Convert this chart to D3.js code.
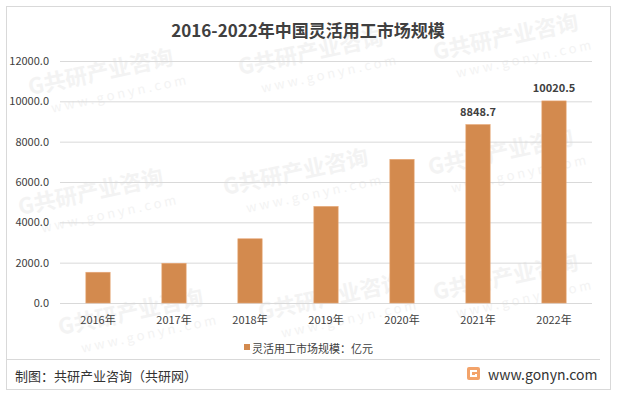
<!DOCTYPE html>
<html>
<head>
<meta charset="utf-8">
<script src="https://cdn.jsdelivr.net/npm/d3@7"></script>
<style>
  body { margin: 0; background: #fff; }
  text { font-family: "Noto Sans CJK SC", "Noto Sans", sans-serif; }
</style>
</head>
<body>
<svg width="617" height="394"></svg>
<script>
const years = ["2016年", "2017年", "2018年", "2019年", "2020年", "2021年", "2022年"];
const values = [1525, 1970, 3185, 4790, 7125, 8848.7, 10020.5];
const labelled = ["2021年", "2022年"];
const yTicks = [0, 2000, 4000, 6000, 8000, 10000, 12000];

const svg = d3.select("svg"),
  width = +svg.attr("width"),
  height = +svg.attr("height");

// faint watermark tiles
const wm = svg.append("g").attr("fill", "#f3f3f3");
const spots = [[30, 95], [240, 75], [435, 60], [20, 215], [225, 195], [430, 175], [60, 335], [260, 320], [435, 300]];
spots.forEach(function (s) {
  const g = wm.append("g").attr("transform", "translate(" + s[0] + "," + s[1] + ") rotate(-12)");
  g.append("text").attr("font-size", 22).attr("font-weight", "bold").text("G共研产业咨询");
  g.append("text").attr("x", 18).attr("y", 22).attr("font-size", 13).attr("letter-spacing", 3).text("www.gonyn.com");
});

// outer border
svg.append("rect").attr("x", 6.5).attr("y", 6.5).attr("width", 604).attr("height", 383)
  .attr("fill", "none").attr("stroke", "#d9d9d9");

svg.append("text")
  .attr("x", 308).attr("y", 37)
  .attr("text-anchor", "middle")
  .attr("font-size", 17).attr("font-weight", "bold")
  .attr("fill", "#404040")
  .text("2016-2022年中国灵活用工市场规模");

const x = d3.scaleBand().domain(years).range([60, 592]).paddingInner(0.68).paddingOuter(0.34);
const y = d3.scaleLinear().domain([0, 12000]).range([303, 61]);

const grid = svg.append("g");
grid.selectAll("line").data(yTicks).join("line")
  .attr("x1", 60).attr("x2", 592)
  .attr("y1", d => y(d) + 0.5).attr("y2", d => y(d) + 0.5)
  .attr("stroke", "#d9d9d9");

const yAxis = svg.append("g").attr("transform", "translate(52,0)")
  .call(d3.axisLeft(y).tickValues(yTicks).tickSize(0).tickFormat(d3.format(".1f")));
yAxis.select(".domain").remove();
yAxis.selectAll("text").attr("font-size", 11).attr("fill", "#404040")
  .attr("font-family", "\"Noto Sans CJK SC\", sans-serif");

svg.append("g").selectAll("rect").data(values).join("rect")
  .attr("x", (d, i) => x(years[i]))
  .attr("y", d => y(d))
  .attr("width", x.bandwidth())
  .attr("height", d => y(0) - y(d))
  .attr("fill", "#d38a4e")
  .attr("stroke", "#e8a878").attr("stroke-width", 0.6);

svg.append("g").selectAll("text").data(values).join("text")
  .filter((d, i) => labelled.includes(years[i]))
  .attr("x", (d, i) => x(years[i + 5]) + x.bandwidth() / 2)
  .attr("y", d => y(d) - 9)
  .attr("text-anchor", "middle")
  .attr("font-size", 11).attr("font-weight", "bold")
  .attr("fill", "#404040")
  .text(d => d.toFixed(1));

const xAxis = svg.append("g").attr("transform", "translate(0,303)")
  .call(d3.axisBottom(x).tickSize(0).tickPadding(13));
xAxis.select(".domain").remove();
xAxis.selectAll("text").attr("font-size", 11).attr("fill", "#404040")
  .attr("font-family", "\"Noto Sans CJK SC\", sans-serif");

// footer
svg.append("line").attr("x1", 6).attr("x2", 600).attr("y1", 359.5).attr("y2", 359.5)
  .attr("stroke", "#d9d9d9");

svg.append("rect").attr("x", 244).attr("y", 344).attr("width", 6).attr("height", 6).attr("fill", "#d38a4e");
svg.append("text").attr("x", 252).attr("y", 353)
  .attr("font-size", 11).attr("fill", "#404040").text("灵活用工市场规模：亿元");

svg.append("text").attr("x", 15).attr("y", 381)
  .attr("font-size", 13).attr("fill", "#333").text("制图：共研产业咨询（共研网）");

const logo = svg.append("g").attr("transform", "translate(467,367)");
logo.append("rect").attr("width", 13).attr("height", 13).attr("rx", 2).attr("fill", "#f3a36a");
logo.append("path").attr("d", "M3,3 H10 V5 H5 V8 H8 V7 H10 V10 H3 Z").attr("fill", "#fff");

svg.append("text").attr("x", 488).attr("y", 380)
  .attr("font-size", 14).attr("fill", "#333").text("www.gonyn.com");
</script>
</body>
</html>
